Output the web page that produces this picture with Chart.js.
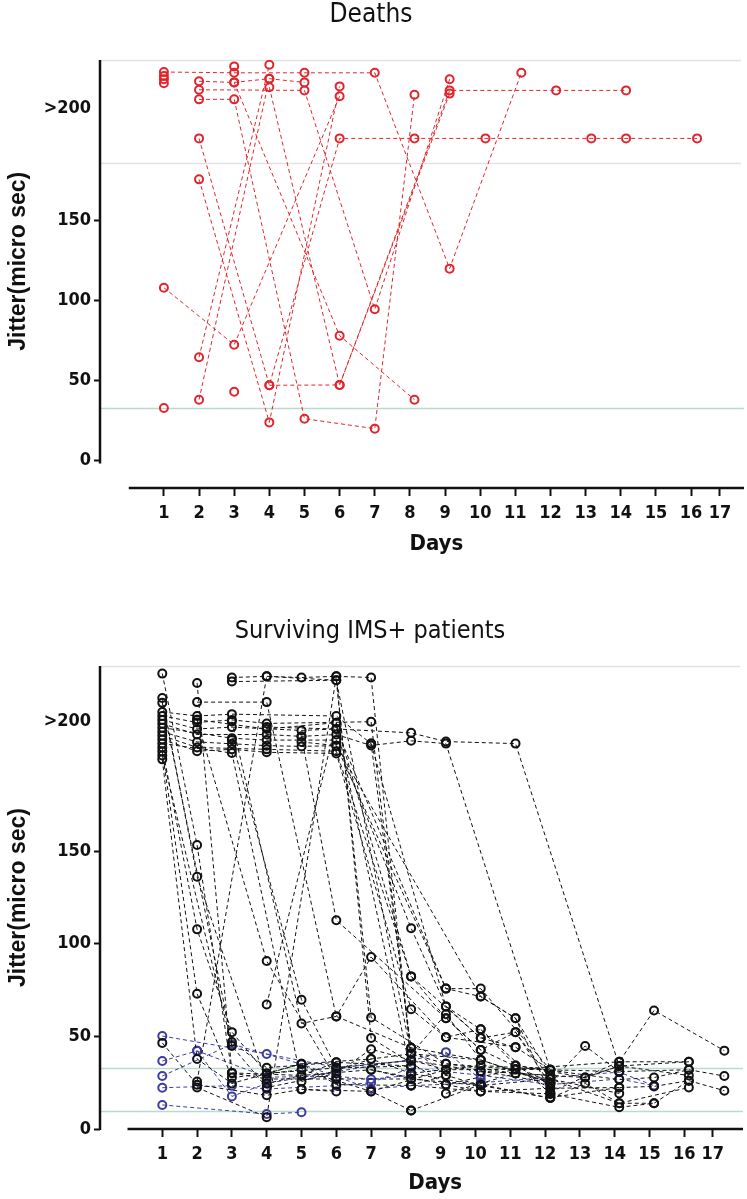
<!DOCTYPE html>
<html>
<head>
<meta charset="utf-8">
<script src="https://cdn.jsdelivr.net/npm/chart.js@4.4.1/dist/chart.umd.min.js"></script>
<style>
body { margin: 0; background: #fff; }
#wrap { position: relative; width: 747px; height: 1199px; }
#deaths-chart { position: absolute; left: 0; top: 0; }
#survivors-chart { position: absolute; left: 0; top: 580px; }
</style>
</head>
<body>
<div id="wrap">
<canvas id="deaths-chart" width="747" height="560"></canvas>
<canvas id="survivors-chart" width="747" height="619"></canvas>
</div>
<script>
// ---- data ----
const dayTickPos = [1, 2, 3, 4, 5, 6, 7, 8, 9, 10, 11, 12, 13, 14, 15, 16, 16.82];
const dayTickLabels = ["1", "2", "3", "4", "5", "6", "7", "8", "9", "10", "11", "12", "13", "14", "15", "16", "17"];
const jitterTicks = [0, 50, 100, 150, 220];
const jitterTickLabels = ["0", "50", "100", "150", ">200"];
const yTitle = "Jitter(micro sec)";
const xTitle = "Days";

// each patient: [day, jitter] pairs
const deathsSeries = [
    [[1, 242.5], [3, 242], [5, 242], [7, 242], [9.13, 119.6], [11.17, 242]],
    [[1, 240]],
    [[1, 238]],
    [[1, 235.5]],
    [[1, 32.5]],
    [[2, 236.7], [3, 236], [4, 238.3], [5, 236]],
    [[3, 236], [6, 77.7], [8.13, 37.7]],
    [[2, 231.4], [5, 231], [7, 94.2], [9.13, 238]],
    [[2, 225.4], [3, 225.4], [5, 25.8], [7, 19.6], [8.13, 228.3]],
    [[2, 201], [4, 46.7], [6, 201], [8.13, 201], [10.15, 201], [13.16, 201], [14.15, 201], [16.17, 201]],
    [[2, 175.4], [4, 23.5], [6, 233.5]],
    [[4, 46.7], [6, 46.9], [9.13, 229]],
    [[2, 64.2], [4, 247]],
    [[2, 37.7], [4, 238.3]],
    [[4, 233], [6, 46.9], [9.13, 231], [12.16, 231], [14.15, 231]],
    [[1, 107.7], [3, 72], [6, 227.3]],
    [[3, 246]],
    [[3, 42.7]]
];
const deathsGrayLines = [250, 185.6];
const deathsGreenLines = [32.5];

const survivorsSeries = [
    [[1, 245.9], [2, 153.3], [3, 30.3], [4, 27], [6, 27]],
    [[1, 232.7], [2, 136.2], [4, 24.6], [5, 28.9], [7, 32], [8.15, 27]],
    [[1, 230.1], [3, 47], [4, 33.1], [6, 36], [8.15, 34]],
    [[1, 225.2], [2, 223], [3, 224], [6, 223], [7, 208.1], [8.15, 43.8], [10.15, 37.3], [12.15, 25]],
    [[1, 223], [2, 219.5], [3, 220.9], [4, 219], [7, 219.9], [8.15, 40.6], [9.15, 35.2], [11.15, 32.2], [12.15, 22], [14.13, 22.4]],
    [[1, 220.9], [2, 216], [3, 217], [5, 215.2], [6, 216], [8.15, 213.9], [9.15, 209.2], [11.15, 208.1], [14.13, 34], [16.13, 28.9]],
    [[1, 218.8], [2, 213], [4, 213], [5, 212], [6, 213], [7, 207.1], [8.15, 209.6], [9.15, 208.1], [12.15, 32], [14.13, 31], [16.13, 32]],
    [[1, 216.7], [3, 211], [4, 210], [6, 210], [8.15, 108.4], [9.15, 66.2], [10.15, 49.1], [11.15, 44.2], [12.15, 32]],
    [[1, 214.5], [2, 209], [3, 208], [4, 207], [5, 206.6], [6, 207], [9.15, 75.8], [10.15, 71.5], [11.15, 59.8], [12.15, 19]],
    [[1, 212.4], [2, 206], [4, 205], [6, 204], [8.15, 82.4], [9.15, 59.8], [10.15, 42.7], [11.15, 52.3], [12.15, 24]],
    [[1, 210.3], [2, 204], [3, 205], [4, 203.4], [6, 202.8], [8.15, 64.7], [9.15, 49.5], [10.15, 53.8], [11.15, 34.3], [13.15, 27.8], [14.13, 34]],
    [[1, 208.1], [3, 203], [5, 25.6], [7, 37.8], [8.15, 30], [10.15, 23.5], [12.15, 16.7]],
    [[1, 206], [2, 107.8], [3, 52.3], [4, 30], [6, 33], [8.15, 37]],
    [[1, 203.9], [2, 73], [3, 27.8], [5, 32], [7, 20.3], [8.15, 10]],
    [[1, 201.7], [3, 44.8], [4, 22.4], [6, 30], [7, 43.1], [9.15, 32]],
    [[1, 199.6], [2, 37.8], [3, 24.6], [5, 35.2], [6, 24], [8.15, 23.5], [10.15, 20.3], [12.15, 22]],
    [[1, 46.5], [2, 23.9], [4, 18.2], [5, 21.4], [6, 20.3]],
    [[2, 240.8], [3, 30.3], [5, 28.9], [6, 36]],
    [[2, 230.5], [4, 230.5], [6, 60.8], [8.15, 43.8], [9.15, 29]],
    [[3, 243.8], [4, 244.4], [5, 243.8], [6, 244.4], [7, 243.8], [8.15, 37], [10.15, 31.2], [12.15, 29]],
    [[3, 241.6], [6, 242.3], [7, 60.2], [9.15, 35.2], [11.15, 30], [12.15, 27]],
    [[2, 25.6], [4, 244.4], [6, 242.3], [8.15, 40.6], [9.15, 62], [10.15, 37.3], [12.15, 25]],
    [[2, 22.4], [4, 6.4], [6, 244.4], [7, 49.1], [9.15, 24], [11.15, 32.2], [14.13, 36.3], [16.13, 36.3]],
    [[4, 67.2], [6, 219.4], [8.15, 30], [10.15, 34.3], [12.15, 32]],
    [[2, 221], [4, 90.7], [6, 27], [8.15, 27], [10.15, 23.5]],
    [[3, 220], [5, 57], [6, 60.8], [7, 92.9], [9.15, 49.5], [11.15, 44.2]],
    [[3, 210], [5, 69.8], [6, 33], [8.15, 34]],
    [[5, 212], [6, 112.7], [9.15, 59.8], [10.15, 42.7], [12.15, 25]],
    [[2, 221], [4, 216], [6, 219.4], [8.15, 82.4], [10.15, 49.1], [11.15, 52.3], [12.15, 27], [14.13, 19.2]],
    [[4, 217], [6, 216], [9.15, 75.8], [10.15, 75.8], [12.15, 32]],
    [[5, 209], [6, 207], [10.15, 71.5], [11.15, 59.8], [12.15, 29]],
    [[7, 208.1], [9.15, 66.2], [10.15, 53.8], [12.15, 19]],
    [[7, 32], [9.15, 24], [10.15, 20.3], [12.15, 19], [14.13, 11.7], [15.13, 13.9], [16.13, 26.1]],
    [[8.15, 10], [10.15, 24], [12.15, 16.7], [13.15, 24.6], [14.13, 13.9], [16.13, 22.4]],
    [[10.15, 31.2], [12.15, 25], [13.15, 44.8], [14.13, 31]],
    [[12.15, 20], [14.13, 36.3], [15.13, 64], [17.15, 42.3]],
    [[11.15, 34.3], [14.13, 26.7], [15.13, 27.8], [16.13, 32], [17.15, 28.6]],
    [[12.15, 17], [14.13, 22.4], [15.13, 23], [16.13, 26.1], [17.15, 20.7]],
    [[9.15, 19.2], [11.15, 30], [13.15, 27.8], [14.13, 34], [16.13, 36.3]],
    [[8.15, 23.5], [9.15, 29], [10.15, 23.5], [12.15, 27], [14.13, 13.9], [15.13, 13.9]],
    [[5, 21.4], [7, 20.3], [9.15, 32], [11.15, 32.2], [12.15, 32]],
    [[4, 30], [5, 35.2], [7, 37.8], [8.15, 40.6], [10.15, 37.3]]
];
const normalSeries = [
    [[1, 50.2], [4, 40.5], [6, 33.3], [8.15, 37], [9.15, 41.5], [10.15, 27]],
    [[1, 36.7], [2, 42.2], [4, 28], [6, 28.4], [7, 26.9], [8.15, 29]],
    [[1, 28.6], [3, 45.8], [5, 35], [7, 21.6], [8.15, 23.4], [10.15, 25], [14.13, 30.7], [15.13, 23.4]],
    [[1, 22.3], [3, 23.4], [4, 21.6], [6, 23.4], [7, 25], [8.15, 33], [10.15, 29], [12.15, 24], [14.13, 27], [15.13, 23.4]],
    [[1, 13], [4, 8.1], [5, 9]],
    [[2, 42.2], [3, 17.6], [4, 24.6], [6, 31], [8.15, 37.5]]
];
const survivorsGrayLines = [250];
const survivorsGreenLines = [33.1, 9.7];

// ---- styling ----
const narrowFont = "'Liberation Sans Narrow', 'Arial Narrow', 'DejaVu Sans Condensed', sans-serif";
const wideFont = "'Liberation Sans', Arial, sans-serif";

const makeDatasets = function (series, color) {
    return series.map(pts => ({
        data: pts.map(p => ({ x: p[0], y: p[1] })),
        showLine: true,
        borderColor: color,
        borderWidth: 1,
        borderDash: [4, 3],
        pointRadius: 4,
        pointBorderWidth: 2,
        pointBorderColor: color,
        pointBackgroundColor: 'rgba(0,0,0,0)',
        pointHoverRadius: 4
    }));
};

// reference lines, axis lines and axis titles
const jitterFrame = {
    id: 'jitterFrame',
    beforeDatasetsDraw(chart, args, opts) {
        const { ctx, chartArea } = chart;
        const y = chart.scales.y;
        ctx.save();
        ctx.lineWidth = 1.5;
        ctx.strokeStyle = '#e2e2e2';
        for (const v of opts.grayLines) {
            const py = Math.round(y.getPixelForValue(v)) + 0.5;
            ctx.beginPath(); ctx.moveTo(chartArea.left, py); ctx.lineTo(chartArea.right, py); ctx.stroke();
        }
        ctx.strokeStyle = '#b9dcc8';
        for (const v of opts.greenLines) {
            const py = Math.round(y.getPixelForValue(v)) + 0.5;
            ctx.beginPath(); ctx.moveTo(chartArea.left, py); ctx.lineTo(chartArea.right + 3, py); ctx.stroke();
        }
        ctx.restore();
    },
    afterDraw(chart, args, opts) {
        const { ctx, chartArea } = chart;
        const x = chart.scales.x;
        const y = chart.scales.y;
        ctx.save();
        ctx.strokeStyle = '#111';
        ctx.lineWidth = 2.5;
        // y axis line
        const yTop = y.getPixelForValue(250);
        const yBot = y.getPixelForValue(opts.yAxisEnd);
        ctx.beginPath(); ctx.moveTo(chartArea.left, yTop); ctx.lineTo(chartArea.left, yBot + 1); ctx.stroke();
        // x axis line
        const xStart = x.getPixelForValue(0);
        const xEnd = chartArea.right + 3;
        ctx.beginPath(); ctx.moveTo(xStart, chartArea.bottom); ctx.lineTo(xEnd, chartArea.bottom); ctx.stroke();
        // titles
        ctx.fillStyle = '#111';
        ctx.textAlign = 'center';
        ctx.textBaseline = 'middle';
        ctx.font = "bold 22px " + narrowFont;
        ctx.fillText(xTitle, (xStart + xEnd) / 2, chartArea.bottom + opts.xTitleOffset);
        ctx.translate(19, (yTop + yBot) / 2);
        ctx.rotate(-Math.PI / 2);
        ctx.font = "bold 23px " + wideFont;
        ctx.fillText(yTitle, 0, 0);
        ctx.restore();
    }
};

const makeOptions = function (cfg) {
    return {
        responsive: false,
        animation: false,
        layout: { padding: { left: 0, right: cfg.padRight, top: 0, bottom: 0 } },
        scales: {
            x: {
                type: 'linear',
                min: cfg.xMin,
                max: cfg.xMax,
                afterBuildTicks: (scale) => { scale.ticks = dayTickPos.map(v => ({ value: v })); },
                afterFit: (scale) => { scale.height = cfg.xAxisHeight; },
                border: { display: false },
                grid: { drawOnChartArea: false, drawTicks: true, tickLength: 8, tickWidth: 2, tickColor: '#111' },
                ticks: {
                    autoSkip: false, maxRotation: 0, padding: 7, color: '#111',
                    font: { family: narrowFont, size: 18, weight: 'bold' },
                    callback: (v, i) => dayTickLabels[i]
                }
            },
            y: {
                type: 'linear',
                min: cfg.yMin,
                max: 250,
                afterBuildTicks: (scale) => { scale.ticks = jitterTicks.map(v => ({ value: v })); },
                afterFit: (scale) => { scale.width = 100; },
                border: { display: false },
                grid: {
                    drawOnChartArea: false, drawTicks: true, tickLength: 6, tickWidth: 2,
                    tickColor: (c) => (c.tick && c.tick.value === 220) ? 'rgba(0,0,0,0)' : '#111'
                },
                ticks: {
                    padding: 3, color: '#111',
                    font: { family: narrowFont, size: 18, weight: 'bold' },
                    callback: (v, i) => jitterTickLabels[i]
                }
            }
        },
        plugins: {
            legend: { display: false },
            tooltip: { enabled: false },
            title: {
                display: true,
                text: cfg.title,
                color: '#111',
                font: { family: narrowFont, size: cfg.titleSize, weight: 'normal' },
                padding: { top: cfg.titleTop, bottom: cfg.titleBottom }
            },
            jitterFrame: {
                grayLines: cfg.grayLines,
                greenLines: cfg.greenLines,
                yAxisEnd: cfg.yAxisEnd,
                xTitleOffset: cfg.xTitleOffset
            }
        }
    };
};

const deathsChart = new Chart(document.getElementById('deaths-chart'), {
    type: 'scatter',
    data: { datasets: makeDatasets(deathsSeries, '#e1252d') },
    options: makeOptions({
        title: 'Deaths', titleSize: 26, titleTop: 0, titleBottom: 28.8,
        xMin: -0.818, xMax: 17.42, yMin: -17.5, yAxisEnd: -1.5,
        padRight: 5, xAxisHeight: 72, xTitleOffset: 56,
        grayLines: deathsGrayLines, greenLines: deathsGreenLines
    }),
    plugins: [jitterFrame]
});

const survivorsChart = new Chart(document.getElementById('survivors-chart'), {
    type: 'scatter',
    data: {
        datasets: [
            ...makeDatasets(survivorsSeries, '#111111'),
            ...makeDatasets(normalSeries, '#3d3d9f')
        ]
    },
    options: makeOptions({
        title: 'Surviving IMS+ patients', titleSize: 25, titleTop: 36, titleBottom: 20,
        xMin: -0.79, xMax: 17.6, yMin: 0, yAxisEnd: 0,
        padRight: 7, xAxisHeight: 70, xTitleOffset: 54,
        grayLines: survivorsGrayLines, greenLines: survivorsGreenLines
    }),
    plugins: [jitterFrame]
});
</script>
</body>
</html>
